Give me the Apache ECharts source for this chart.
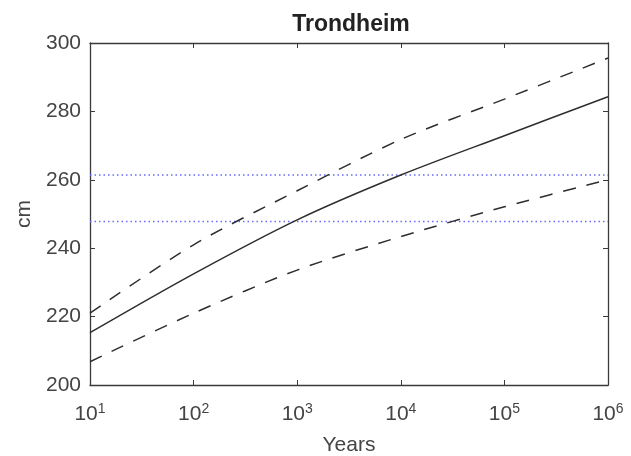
<!DOCTYPE html>
<html>
<head>
<meta charset="utf-8">
<script src="https://cdn.jsdelivr.net/npm/echarts@6/dist/echarts.min.js"></script>
<style>
  html, body { margin: 0; padding: 0; background: #fff; }
  #chart { width: 631px; height: 456px; }
</style>
</head>
<body>
<div id="chart"></div>
<script>
// Return period (years) on a log axis
const years = [10, 100, 1000, 10000, 100000, 1000000];
// Return level estimate and its upper/lower confidence bounds (cm)
const centralLevel = [215.3, 232.5, 248.3, 261.4, 272.9, 284.3];
const upperBound   = [221.0, 241.0, 256.8, 271.8, 283.6, 295.6];
const lowerBound   = [206.8, 221.0, 233.6, 243.4, 252.1, 260.0];
// Horizontal reference levels (cm)
const referenceLevels = [261.4, 247.8];
const yTicks = [200, 220, 240, 260, 280, 300];

const axisColor = '#3a3a3a';
const textColor = '#444';
const font = 'Liberation Sans, Arial, Helvetica, sans-serif';

function pairs(ys) { return years.map((x, i) => [x, ys[i]]); }

const chart = echarts.init(document.getElementById('chart'));

const curveStyle = { color: '#2e2e2e', width: 1.5 };
const series = [
  {
    name: 'central', type: 'line', data: pairs(centralLevel), smooth: 0.3,
    symbol: 'none', lineStyle: Object.assign({ type: 'solid' }, curveStyle), z: 5
  },
  {
    name: 'upper', type: 'line', data: pairs(upperBound), smooth: 0.3,
    symbol: 'none', lineStyle: Object.assign({ type: [13, 11] }, curveStyle), z: 5
  },
  {
    name: 'lower', type: 'line', data: pairs(lowerBound), smooth: 0.3,
    symbol: 'none', lineStyle: Object.assign({ type: [13, 11] }, curveStyle), z: 5
  }
];
referenceLevels.forEach((lvl, k) => {
  series.push({
    name: 'ref' + k, type: 'line', data: [[years[0], lvl], [years[years.length - 1], lvl]],
    symbol: 'none', itemStyle: { color: '#6a6aff' },
    lineStyle: { color: '#6a6aff', width: 1.5, type: [1.5, 3] }, z: 3
  });
});

const boxAxisLine = { show: true, lineStyle: { color: axisColor, width: 1.3 } };
const innerTick = { show: true, inside: true, length: 5, lineStyle: { color: axisColor } };

chart.setOption({
  animation: false,
  backgroundColor: '#fff',
  title: {
    text: 'Trondheim', left: 346, top: 8, textAlign: 'center',
    textStyle: { fontFamily: font, fontSize: 23, fontWeight: 'bold', color: '#222' }
  },
  grid: { left: 90, right: 23, top: 43, bottom: 71, containLabel: false, outerBoundsMode: 'none' },
  xAxis: [
    {
      type: 'log', logBase: 10, min: 10, max: 1000000, position: 'bottom',
      name: 'Years', nameLocation: 'middle', nameGap: 50,
      nameTextStyle: { fontFamily: font, fontSize: 21, color: textColor },
      axisLine: boxAxisLine, axisTick: innerTick, minorTick: { show: false },
      splitLine: { show: false },
      axisLabel: {
        color: textColor, fontFamily: font, fontSize: 21, margin: 17,
        formatter: v => '10{sup|' + Math.round(Math.log10(v)) + '}',
        rich: { sup: { fontSize: 14, verticalAlign: 'top', padding: [0, 0, 10, 0], color: textColor, fontFamily: font } }
      }
    },
    {
      type: 'log', logBase: 10, min: 10, max: 1000000, position: 'top',
      axisLine: boxAxisLine, axisTick: innerTick, axisLabel: { show: false }, splitLine: { show: false }
    }
  ],
  yAxis: [
    {
      type: 'value', min: yTicks[0], max: yTicks[yTicks.length - 1], interval: 20, position: 'left',
      name: 'cm', nameLocation: 'middle', nameGap: 54, nameRotate: 90,
      nameTextStyle: { fontFamily: font, fontSize: 21, color: textColor },
      axisLine: boxAxisLine, axisTick: innerTick, splitLine: { show: false },
      axisLabel: { color: textColor, fontFamily: font, fontSize: 21, margin: 9, padding: [6, 0, 0, 0] }
    },
    {
      type: 'value', min: yTicks[0], max: yTicks[yTicks.length - 1], interval: 20, position: 'right',
      axisLine: boxAxisLine, axisTick: innerTick, axisLabel: { show: false }, splitLine: { show: false }
    }
  ],
  series: series
});
</script>
</body>
</html>
